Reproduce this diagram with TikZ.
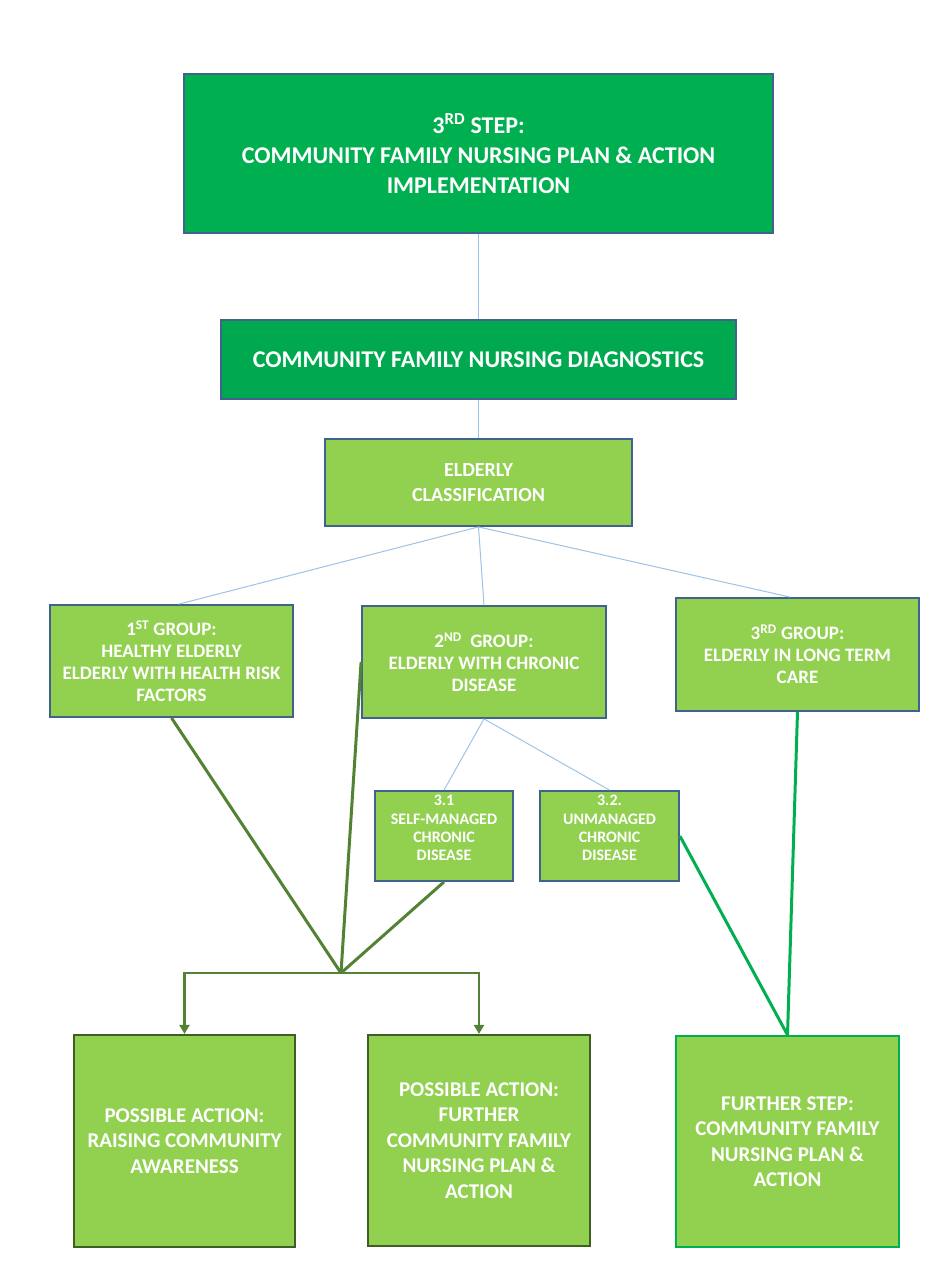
\documentclass[tikz,border=0pt]{standalone}
\usepackage{fontspec}
\setmainfont{Carlito}
\usetikzlibrary{arrows.meta,calc}
\definecolor{darkfill}{HTML}{00B050}
\definecolor{diagfill}{HTML}{00A84F}
\definecolor{lightfill}{HTML}{92D050}
\definecolor{boxedge}{HTML}{41618F}
\definecolor{olivelink}{HTML}{548235}
\definecolor{oliveedge}{HTML}{3E5E25}
\definecolor{brightlink}{HTML}{00B050}
\definecolor{thinlink}{HTML}{9DC3E6}
\begin{document}
\begin{tikzpicture}[x=1pt,y=-1pt,
  box/.style={draw=boxedge,line width=1.8pt,inner sep=0pt,align=center,
    text=white,font=\bfseries},
  topbox/.style={box,fill=darkfill,font=\bfseries\fontsize{24}{30}\selectfont},
  diagbox/.style={box,fill=diagfill,font=\bfseries\fontsize{24}{30}\selectfont},
  clsbox/.style={box,fill=lightfill,font=\bfseries\fontsize{20}{25}\selectfont},
  grpbox/.style={box,fill=lightfill,font=\bfseries\fontsize{19}{22}\selectfont},
  subbox/.style={box,fill=lightfill},
  subtext/.style={text=white,align=center,inner sep=0pt,
    font=\bfseries\fontsize{16}{18.3}\selectfont},
  actbox/.style={box,fill=lightfill,draw=oliveedge,line width=2.2pt,
    font=\bfseries\fontsize{21}{25.5}\selectfont},
  stepbox/.style={actbox,draw=brightlink},
  thin link/.style={draw=thinlink,line width=1pt},
  olive link/.style={draw=olivelink,line width=3pt},
  bright link/.style={draw=brightlink,line width=3pt},
  drop/.style={-{Triangle[width=10pt,length=9pt]}}
]
\useasboundingbox (0,0) rectangle (937,1274);

% boxes
\node[topbox,minimum width=589pt,minimum height=159pt] (top) at (478.5,153.5)
  {3\textsuperscript{RD} STEP:\\COMMUNITY FAMILY NURSING PLAN \& ACTION\\IMPLEMENTATION};
\node[diagbox,minimum width=515pt,minimum height=79pt] (diag) at (478.5,359.5)
  {COMMUNITY FAMILY NURSING DIAGNOSTICS};
\node[clsbox,minimum width=307pt,minimum height=87pt] (ecls) at (478.5,482.5)
  {ELDERLY\\CLASSIFICATION};
\node[grpbox,minimum width=243pt,minimum height=112pt] (g1) at (171.5,661)
  {1\textsuperscript{ST} GROUP:\\HEALTHY ELDERLY\\ELDERLY WITH HEALTH RISK\\FACTORS};
\node[grpbox,minimum width=244pt,minimum height=112pt] (g2) at (484,662)
  {2\textsuperscript{ND}\ \ GROUP:\\ELDERLY WITH CHRONIC\\DISEASE};
\node[grpbox,minimum width=243pt,minimum height=113pt] (g3) at (797.5,654.5)
  {3\textsuperscript{RD} GROUP:\\ELDERLY IN LONG TERM\\CARE};
\node[subbox,minimum width=138pt,minimum height=90pt,
  label={[subtext,yshift=8pt]center:3.1\\SELF-MANAGED\\CHRONIC\\DISEASE}]
  (s1) at (444,836) {};
\node[subbox,minimum width=139pt,minimum height=90pt,
  label={[subtext,yshift=8pt]center:3.2.\\UNMANAGED\\CHRONIC\\DISEASE}]
  (s2) at (609.5,836) {};
\node[actbox,minimum width=221pt,minimum height=212pt] (a1) at (184.5,1141)
  {POSSIBLE ACTION:\\RAISING COMMUNITY\\AWARENESS};
\node[actbox,minimum width=222pt,minimum height=211pt] (a2) at (479,1140.5)
  {POSSIBLE ACTION:\\FURTHER\\COMMUNITY FAMILY\\NURSING PLAN \&\\ACTION};
\node[stepbox,minimum width=223pt,minimum height=211pt] (a3) at (787.5,1141.5)
  {FURTHER STEP:\\COMMUNITY FAMILY\\NURSING PLAN \&\\ACTION};

% hierarchy links
\draw[thin link] (top.south) -- (diag.north);
\draw[thin link] (diag.south) -- (ecls.north);
\draw[thin link] (ecls.south) -- ($(g1.north west)!0.53!(g1.north east)$);
\draw[thin link] (ecls.south) -- (g2.north);
\draw[thin link] (ecls.south) -- ($(g3.north west)!0.47!(g3.north east)$);
\draw[thin link] (g2.south) -- (s1.north);
\draw[thin link] (g2.south) -- (s2.north);

% links to the possible actions
\coordinate (hub) at (341,973);
\draw[olive link] (g1.south) -- (hub);
\draw[olive link] (g2.west) -- (hub);
\draw[olive link] (s1.south) -- (hub);
\draw[olive link,line width=2.6pt,drop] (hub) -| (a1.north);
\draw[olive link,line width=2.6pt,drop] (hub) -| (a2.north);

% links to the further step
\draw[bright link] (g3.south) -- (a3.north);
\draw[bright link] (s2.east) -- (a3.north);
\end{tikzpicture}
\end{document}
